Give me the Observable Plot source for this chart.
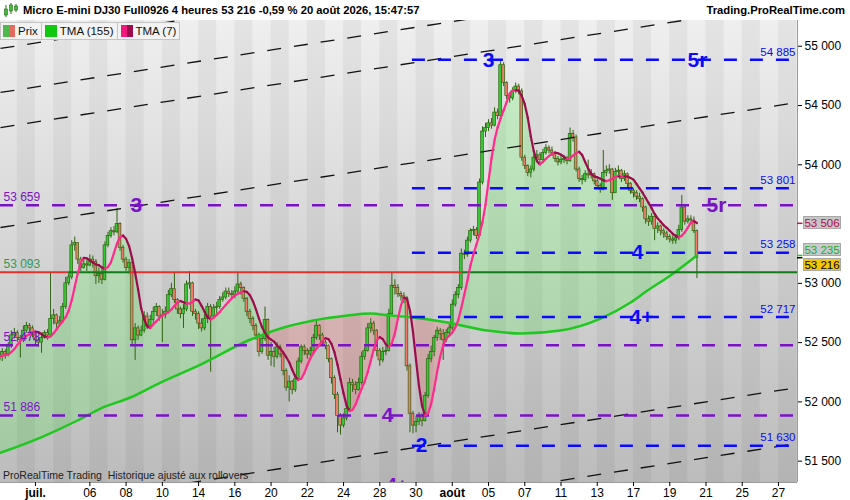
<!DOCTYPE html>
<html><head><meta charset="utf-8">
<script src="https://cdn.jsdelivr.net/npm/d3@7"></script>
<script src="https://cdn.jsdelivr.net/npm/@observablehq/plot@0.6"></script>
<style>
body{margin:0;background:#fff;font-family:"Liberation Sans",Arial,sans-serif;}
#wrap{position:relative;width:850px;height:500px;overflow:hidden;background:#fff;}
#bg{position:absolute;left:0;top:20px;width:797px;height:462px;background:linear-gradient(#efefef,#bcbcbc);}
#chart{position:absolute;left:0;top:0;}
#title{position:absolute;left:0;top:0;width:850px;height:20px;background:#fff;font-size:11.25px;font-weight:bold;color:#000;}
#title .t{position:absolute;left:23px;top:4px;white-space:nowrap;}
#title .r{position:absolute;right:5px;top:4px;white-space:nowrap;}
#title svg{position:absolute;left:3px;top:2px;}
#legend{position:absolute;left:0;top:22px;display:flex;}
.it{height:16px;border:1px solid #c4c4c4;border-left:none;background:#f3f3f3;padding:0 3px 0 3px;font-size:11.5px;line-height:16px;display:flex;align-items:center;color:#111;white-space:nowrap;}
.it:first-child{border-left:1px solid #c4c4c4;padding-left:2px;}
.sw{display:inline-flex;width:12px;height:12px;margin-right:3px;}
.sw b{flex:1;display:block;}
#foot{position:absolute;left:3px;top:469px;font-size:10.5px;color:#222;white-space:nowrap;}
.pl{position:absolute;left:803px;width:38px;height:13px;font-size:11.5px;line-height:12px;text-align:center;border:1px solid #a8a8a8;box-sizing:border-box;white-space:nowrap;overflow:hidden;}
</style></head>
<body>
<div id="wrap">
  <div id="bg"></div>
  <div id="chart"></div>
  <div id="title">
    <svg width="16" height="16" viewBox="0 0 16 16"><line x1="3" y1="3" x2="3" y2="15" stroke="#2a6a10"/><rect x="1.5" y="7" width="3" height="6" fill="#3cbf3c" stroke="#2a6a10" stroke-width="0.6"/><line x1="8" y1="1" x2="8" y2="12" stroke="#2a6a10"/><rect x="6.5" y="3" width="3" height="6" fill="#3cbf3c" stroke="#2a6a10" stroke-width="0.6"/><line x1="13" y1="2" x2="13" y2="10" stroke="#2a6a10"/><rect x="11.5" y="4" width="3" height="4" fill="#3cbf3c" stroke="#2a6a10" stroke-width="0.6"/></svg>
    <span class="t">Micro E-mini DJ30 Full0926 4 heures 53 216 -0,59 % 20 août 2026, 15:47:57</span>
    <span class="r">Trading.ProRealTime.com</span>
  </div>
  <div id="legend">
    <div class="it"><span class="sw"><b style="background:#4fb84f"></b><b style="background:#e36a5f"></b></span>Prix</div>
    <div class="it"><span class="sw"><b style="background:#10c810"></b></span>TMA (155)</div>
    <div class="it"><span class="sw"><b style="background:#f0197d"></b><b style="background:#9c0c4c"></b></span>TMA (7)</div>
  </div>
  <div id="foot">ProRealTime Trading&nbsp; Historique ajusté aux rollovers</div>
</div>
<script>
// ---------- DATA ----------
// 4-hour bars, 6 per trading day; first bar = Mon 29 June (day -2), Jul 1 = day 0
const startDay = -2;
const barsPerDay = 6;
const firstOpen = 52350;
const closes = [
52380,52420,52400,52470,52560,52580,52540,52520,52600,52640,
52620,52580,52520,52500,52540,52580,52560,52700,52730,52660,
52680,52800,53000,53050,53320,53340,53200,53130,53160,53150,
53200,53180,53060,53080,53030,53320,53400,53440,53430,53500,
53300,53200,53130,53170,52520,52620,52560,52600,52720,52640,
52690,52760,52800,52720,52730,52760,52900,52950,52860,52780,
52740,52780,52990,53000,52760,52740,52660,52620,52700,52800,
52720,52790,52800,52860,52880,52930,52910,52900,52930,52990,
52960,52870,52760,52700,52640,52560,52420,52530,52690,52390,
52420,52380,52460,52400,52260,52120,52170,52100,52190,52340,
52460,52430,52400,52430,52540,52640,52560,52500,52470,52360,
52200,52060,51880,51800,51860,51940,52160,52140,52100,52160,
52380,52430,52620,52660,52600,52430,52350,52420,52430,52740,
52980,52960,52910,52890,52870,52300,51900,51800,51830,51870,
51840,52050,52360,52420,52540,52600,52570,52520,52580,52620,
52820,52900,52960,53250,53240,53360,53440,53450,53400,53850,
54280,54310,54350,54330,54440,54410,54840,54690,54580,54560,
54620,54660,54620,54060,53990,53930,53960,54060,54080,54040,
54100,54140,54120,54100,54050,54020,54040,54050,54030,54260,
54230,53960,53880,53870,53920,53910,53920,53860,53820,53790,
53930,53950,53960,53760,53940,53950,53880,53920,53840,53780,
53760,53730,53710,53640,53540,53520,53560,53460,53480,53440,
53420,53390,53370,53360,53380,53450,53640,53520,53540,53530,
53440,53216];
const highs = [
52420,52450,52440,52500,52600,52620,52600,52560,52640,52670,
52660,52640,52590,52540,52570,52600,52610,53090,52780,52740,
52720,52830,53050,53080,53360,53390,53340,53220,53200,53190,
53240,53230,53200,53130,53120,53350,53430,53470,53480,53630,
53510,53320,53220,53200,53180,52660,52640,52640,52760,52750,
52730,52800,52830,52810,52780,52800,52940,53000,53090,52870,
52800,52820,53020,53100,53010,52780,52760,52700,52740,52830,
52820,52820,52840,52890,52920,52960,52960,52940,52970,53090,
53010,52970,52880,52780,52720,52660,52580,52560,52800,52700,
52500,52460,52500,52480,52420,52280,52220,52180,52230,52370,
52480,52480,52450,52460,52570,52690,52650,52580,52520,52480,
52370,52220,52080,51900,51900,51980,52200,52190,52170,52200,
52420,52460,52660,52700,52680,52610,52450,52460,52470,52780,
53090,53030,52990,52930,52920,52890,52320,51920,51880,51910,
51900,52080,52400,52470,52560,52630,52620,52610,52610,52650,
52860,52930,52990,53290,53280,53390,53460,53480,53470,53880,
54320,54350,54380,54390,54480,54470,54870,54860,54700,54610,
54650,54690,54680,54640,54080,54000,53990,54090,54120,54100,
54130,54170,54160,54150,54110,54070,54070,54080,54070,54310,
54290,54250,53980,53910,53950,54040,53960,53930,53880,53840,
54120,53990,54000,53970,53970,53990,53960,53950,53930,53850,
53800,53780,53760,53720,53650,53570,53590,53570,53510,53490,
53460,53440,53410,53400,53410,53490,53740,53660,53570,53570,
53560,53450];
const lows = [
52330,52340,52360,52380,52450,52530,52500,52370,52500,52580,
52560,52540,52480,52460,52410,52530,52520,52560,52650,52620,
52640,52660,52780,52980,53030,53270,53160,53100,53120,53100,
53140,53130,52990,53000,52990,53020,53300,53380,53400,53420,
53270,53170,53100,53080,52480,52350,52520,52550,52580,52610,
52620,52660,52720,52680,52500,52700,52740,52880,52830,52740,
52700,52620,52760,52950,52720,52690,52610,52590,52600,52660,
52250,52700,52740,52780,52840,52860,52880,52860,52870,52910,
52900,52840,52720,52660,52600,52520,52380,52400,52510,52350,
52300,52290,52360,52370,52220,52090,52000,52060,52080,52170,
52320,52390,52360,52380,52410,52520,52520,52470,52440,52330,
52150,52020,51740,51720,51780,51840,51920,52080,52060,52090,
52140,52350,52420,52580,52560,52380,52300,52330,52390,52420,
52720,52900,52880,52850,52830,52260,51740,51730,51740,51800,
51790,51830,52030,52330,52380,52510,52520,52350,52500,52560,
52600,52800,52870,52940,53200,53220,53340,53400,53370,53390,
53830,54230,54280,54300,54320,54380,54380,54660,54550,54520,
54540,54600,54590,54030,53960,53900,53890,53940,54030,54010,
54020,54080,54090,54070,54020,53990,54000,54010,54000,54020,
54190,53940,53850,53830,53850,53880,53880,53830,53790,53760,
53780,53900,53920,53700,53760,53910,53850,53860,53800,53750,
53720,53700,53680,53600,53500,53480,53490,53360,53420,53400,
53380,53360,53340,53330,53330,53360,53430,53490,53500,53500,
53420,53040];

// TMA(155) (day index, value)
const tma155Days = [-2,0.28,2.32,3.59,5.24,6.90,9.11,11.87,13.52,15.34,17.22,18.49,19.59,20.86,22.74,24.94,26.77,28.97,31.18,32.84,33.77,35.04,36.5];
const tma155Vals = [51567,51699,51843,51944,52037,52163,52315,52526,52619,52686,52728,52745,52728,52711,52669,52602,52577,52602,52703,52838,52939,53066,53235];

// x-axis (trading day index) ticks
const dayTicks = [3,5,7,9,11,13,15,17,19,21,25,27,29,31,33,35,37,39,41];
const dayLabels = ["06","08","10","14","16","20","22","24","28","30","05","07","11","13","17","19","21","25","27"];
const monthTicks = [0,23];
const monthLabels = ["juil.","août"];
const yTicks = [51500,52000,52500,53000,54000,54500,55000];

// horizontal levels
const purpleLevels = [53659,52478,51886];
const blueLevels = [54885,53801,53258,52717,51630];
const blueStartDay = 20.8;
const pivotLevel = 53093;
const pivotFrom = [-2.5,1.82,5.24,23.57];
const pivotTo   = [1.82,5.24,23.57,43];
const pivotState = ["below","above","below","above"];

// parallel channel lines: value at left edge / right edge of the view
const chanDays = [-1.93,42.05];
const chanLeft  = [54981,54610,54314,53471,51067,50595];
const chanRight = [56036,55665,55369,54526,52121,51650];

// wave annotations
const noteLabels = ["3","3","5r","5r","4","4+","4","2","4+"];
const noteDays   = [5.57,25.0,36.53,37.58,33.22,33.44,19.43,21.3,19.95];
const noteVals   = [53659,54885,54885,53659,53258,52717,51886,51630,51300];
const noteKind   = ["p","b","b","p","b","b","p","b","p"];
const noteSize   = [21,21,21,21,21,21,21,21,19];

const lastPrice = 53216, tma155Last = 53235, tma7Last = 53506;

// ---------- BUILD ----------
const BLUE="#0a0aff", PURPLE="#7a12c6", UP="#36c936", DOWN="#f07d6c", EDGE="#2d6410";
const PINK="#ff2a8c", DARK="#9c0c4c", TGREEN="#1ec81e";
const fmt = v => d3.format(",")(v).replace(/,/g," ");
const yMin = 51320, yMax = 55217, xMin = -1.93, xMax = 42.05;

const bars = closes.map((c,i)=>{
  const o = i ? closes[i-1] : firstOpen;
  return {t: startDay + i/barsPerDay, open:o, close:c, high:Math.max(highs[i],o,c), low:Math.min(lows[i],o,c)};
});
const sma = (arr,n)=>arr.map((_,i)=>d3.mean(arr.slice(Math.max(0,i-n+1),i+1)));
const tma7 = sma(sma(closes,4),4);
bars.forEach((b,i)=>b.tma7=tma7[i]);
const segs = bars.slice(1).map((b,i)=>({t1:bars[i].t, v1:bars[i].tma7, t2:b.t, v2:b.tma7, up:b.tma7>=bars[i].tma7}));
const tmaPts = tma155Days.map((t,i)=>({t, v:tma155Vals[i]}));
const pivots = pivotFrom.map((f,i)=>({from:f, to:pivotTo[i], state:pivotState[i]}));
const chans = chanLeft.map((l,i)=>({v1:l, v2:chanRight[i]}));
const notes = noteLabels.map((l,i)=>({label:l, t:noteDays[i], v:noteVals[i], kind:noteKind[i], size:noteSize[i]}));
const darkDays = d3.range(-3,42,2);

const chart = Plot.plot({
  width:850, height:500,
  marginLeft:0, marginRight:53, marginTop:20, marginBottom:18,
  style:{background:"transparent", fontFamily:"'Liberation Sans', Arial, sans-serif", fontSize:"12px", overflow:"visible"},
  x:{domain:[xMin,xMax], axis:null},
  y:{domain:[yMin,yMax], axis:null},
  marks:[
    Plot.rect(darkDays,{x1:d=>d, x2:d=>d+1, y1:yMin, y2:yMax, fill:"#000", fillOpacity:0.045, clip:true}),
    Plot.areaY(tmaPts,{x:"t", y1:yMax+500, y2:"v", curve:"monotone-x", fill:"#000", fillOpacity:0, ariaLabel:()=>"clipAbove"}),
    Plot.areaY(tmaPts,{x:"t", y1:"v", y2:yMin-500, curve:"monotone-x", fill:"#000", fillOpacity:0, ariaLabel:()=>"clipBelow"}),
    Plot.areaY(bars,{x:"t", y1:"tma7", y2:yMin, fill:"#18ff18", fillOpacity:0.17, ariaLabel:()=>"fillGreen"}),
    Plot.areaY(bars,{x:"t", y1:"tma7", y2:yMax, fill:"#ff3030", fillOpacity:0.18, ariaLabel:()=>"fillRed"}),
    Plot.ruleX(bars,{x:"t", y1:"low", y2:"high", stroke:EDGE, strokeWidth:1}),
    Plot.rect(bars,{x1:d=>d.t-0.074, x2:d=>d.t+0.074, y1:"open", y2:d=>Math.abs(d.close-d.open)<4?d.open+4:d.close,
      fill:d=>d.close>=d.open?UP:DOWN, stroke:EDGE, strokeWidth:0.7}),
    Plot.line(tmaPts,{x:"t", y:"v", curve:"monotone-x", stroke:TGREEN, strokeWidth:2.5}),
    Plot.link(chans,{x1:chanDays[0], x2:chanDays[1], y1:"v1", y2:"v2", stroke:"#111", strokeWidth:1.3, strokeDasharray:"14,13", clip:true}),
    Plot.ruleY(purpleLevels,{y:d=>d, stroke:PURPLE, strokeWidth:2.5, strokeDasharray:"13,13"}),
    Plot.ruleY(blueLevels,{y:d=>d, x1:blueStartDay, x2:41.75, stroke:BLUE, strokeWidth:2.5, strokeDasharray:"13,13"}),
    Plot.ruleY(pivots,{y:pivotLevel, x1:d=>Math.max(d.from,xMin), x2:d=>Math.min(d.to,xMax), stroke:d=>d.state==="above"?"#137a1a":"#e3322b", strokeWidth:2}),
    Plot.link(segs,{x1:"t1", y1:"v1", x2:"t2", y2:"v2", stroke:d=>d.up?PINK:DARK, strokeWidth:2.2, strokeLinecap:"round"}),
    Plot.text(purpleLevels,{y:d=>d, frameAnchor:"left", text:fmt, dx:3, dy:-8, textAnchor:"start", fill:PURPLE, fontSize:12}),
    Plot.text([pivotLevel],{y:d=>d, frameAnchor:"left", text:fmt, dx:3, dy:-8, textAnchor:"start", fill:"#2f9a55", fontSize:12}),
    Plot.text(blueLevels,{y:d=>d, frameAnchor:"right", text:fmt, dx:-2, dy:-8, textAnchor:"end", fill:BLUE, fontSize:11.5}),
    Plot.text(notes,{x:"t", y:"v", text:"label", fill:d=>d.kind==="b"?BLUE:PURPLE, fontSize:d=>d.size, fontWeight:"bold", clip:true}),
    Plot.ruleX([xMax],{y1:yMin, y2:yMax, stroke:"#9a9a9a"}),
    Plot.ruleY([yMin],{x1:xMin, x2:xMax, stroke:"#9a9a9a"}),
    Plot.axisY(yTicks,{anchor:"right", tickSize:4, tickPadding:3, tickFormat:fmt, fontSize:12, label:null}),
    Plot.axisX(dayTicks,{anchor:"bottom", tickSize:4, tickPadding:2, tickFormat:d=>dayLabels[dayTicks.indexOf(d)], fontSize:12, label:null}),
    Plot.axisX(monthTicks,{anchor:"bottom", tickSize:4, tickPadding:2, tickFormat:d=>monthLabels[monthTicks.indexOf(d)], fontSize:12, fontWeight:"bold", label:null}),
    Plot.ruleY([tma7Last],{x1:xMax, x2:xMax+0.3, stroke:"#c0104a", strokeWidth:1.5}),
    Plot.ruleY([tma155Last],{x1:xMax, x2:xMax+0.3, stroke:TGREEN, strokeWidth:1.5}),
    Plot.ruleY([lastPrice],{x1:xMax, x2:xMax+0.3, stroke:"#000", strokeWidth:1.5})
  ]
});
document.getElementById("chart").appendChild(chart);

// move TMA155 areas into clip paths for the two-colour fill
const svg = d3.select(chart);
const defs = svg.insert("defs",":first-child");
function findPath(lab){
  const el = chart.querySelector(`[aria-label="${lab}"]`);
  if (!el) return null;
  return el.tagName.toLowerCase()==="path" ? el : el.querySelector("path");
}
[["clipAbove","cA"],["clipBelow","cB"]].forEach(([lab,id])=>{
  const p = findPath(lab);
  if (!p) return;
  const g = p.parentNode;
  const cp = defs.append("clipPath").attr("id",id).append("path").attr("d",p.getAttribute("d"));
  if (g.getAttribute("transform")) cp.attr("transform", g.getAttribute("transform"));
  g.parentNode.removeChild(g);
});
[["fillGreen","cA"],["fillRed","cB"]].forEach(([lab,id])=>{
  const p = findPath(lab);
  if (p && document.getElementById(id)) p.parentNode.setAttribute("clip-path",`url(#${id})`);
});

// price boxes on the right axis
const ys = chart.scale("y");
const wrap = document.getElementById("wrap");
[[tma7Last,0,"#c6c6c6","#b01050"],[tma155Last,-5,"#cacaca","#1faa1f"],[lastPrice,7,"#f7c600","#000"]].forEach(([v,dy,bg,fg])=>{
  const d = document.createElement("div");
  d.className="pl"; d.textContent=fmt(v);
  d.style.top=(ys.apply(v)+dy-6.5)+"px"; d.style.background=bg; d.style.color=fg;
  wrap.appendChild(d);
});
</script>
</body></html>
